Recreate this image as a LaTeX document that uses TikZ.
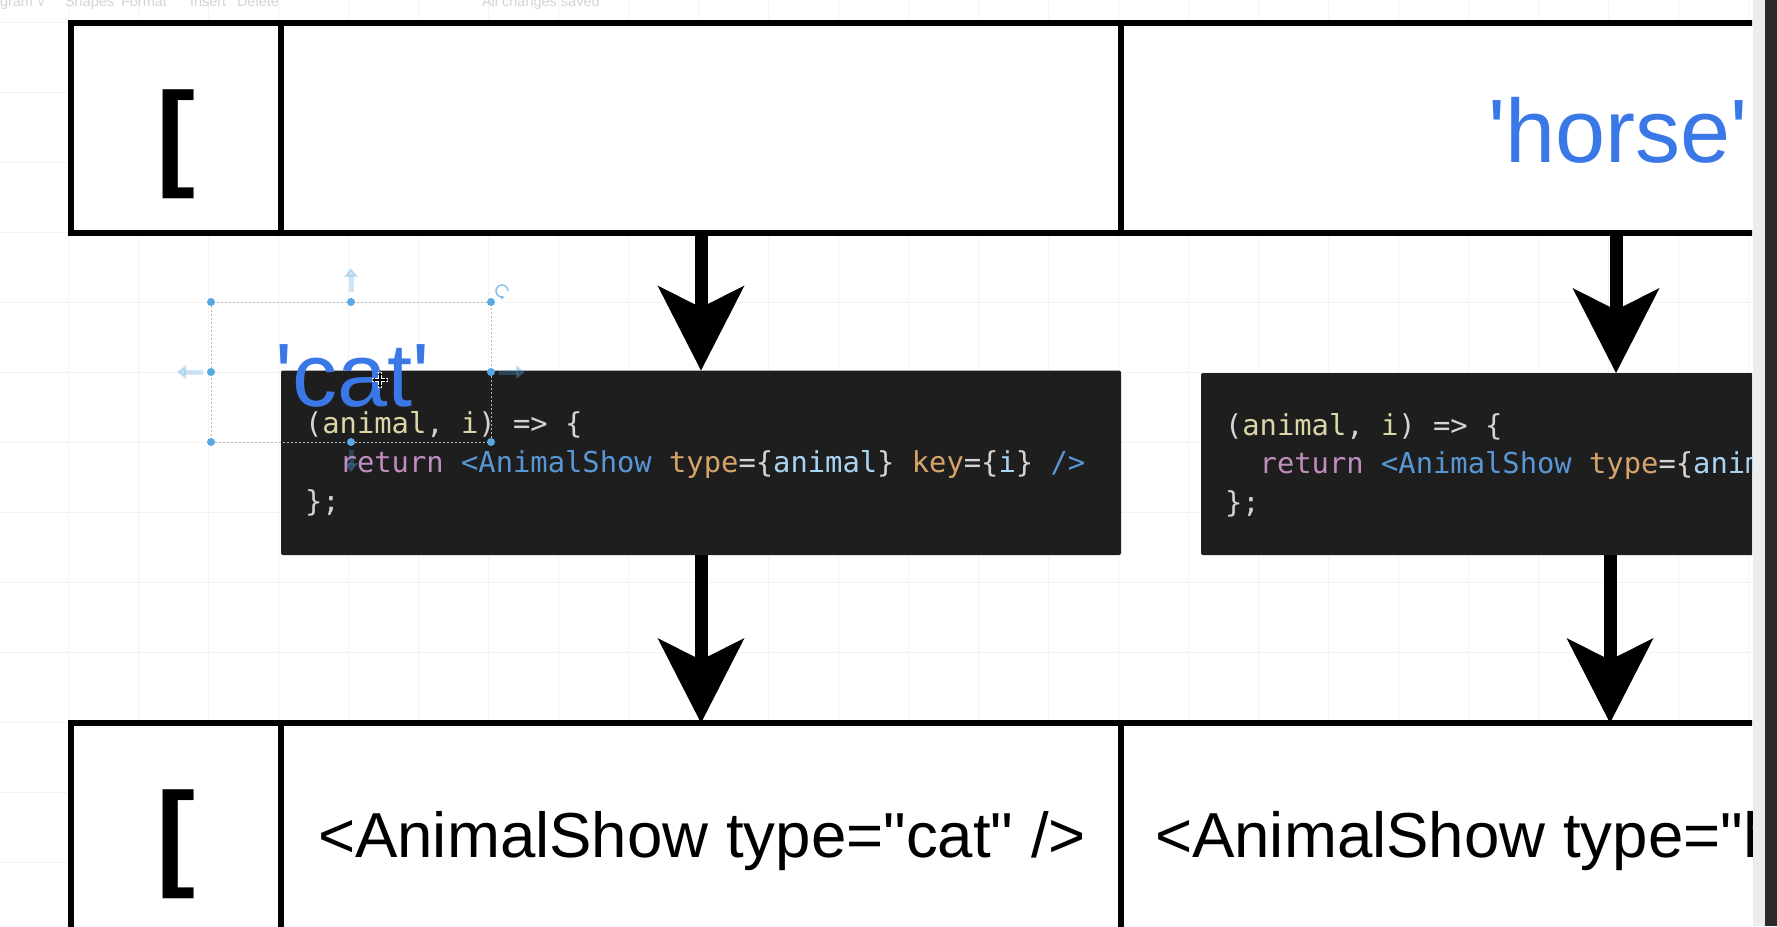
\documentclass[tikz,border=0pt]{standalone}
\usetikzlibrary{arrows.meta}
\font\fbig="Liberation Sans" at 90pt
\font\fmid="Liberation Sans" at 63.6pt
\font\fbrk="Liberation Sans/B" at 117pt
\font\fcode="DejaVu Sans Mono" at 28.8pt
\font\fui="Liberation Sans" at 14.5pt
\font\fuisym="DejaVu Sans" at 11pt
\def\cbl{\char"7B\relax}
\def\cbr{\char"7D\relax}
\definecolor{ublue}{RGB}{58,120,231}
\definecolor{codebg}{RGB}{30,30,30}
\definecolor{cwhite}{RGB}{212,212,212}
\definecolor{cparam}{RGB}{220,214,166}
\definecolor{cret}{RGB}{192,140,190}
\definecolor{ctag}{RGB}{88,150,212}
\definecolor{cattr}{RGB}{214,164,106}
\definecolor{cvar}{RGB}{168,212,242}
\definecolor{handle}{RGB}{88,168,228}
\definecolor{gridc}{RGB}{243,243,243}
\definecolor{uitext}{RGB}{212,212,212}
\definecolor{selline}{RGB}{185,185,185}
\definecolor{stripl}{RGB}{236,236,236}
\definecolor{stripd}{RGB}{42,42,42}
\begin{document}
\begin{tikzpicture}[x=1pt,y=-1pt,
  cell/.style={draw=black, line width=6pt, fill=white, inner sep=0pt, outer sep=0pt, anchor=north west},
  codebox/.style={fill=codebg, rounded corners=2pt, inner sep=0pt, outer sep=0pt, anchor=north west},
  code/.style={anchor=base west, inner sep=0pt, outer sep=0pt, text=cwhite, font=\fcode},
  bigtxt/.style={anchor=base west, inner sep=0pt, outer sep=0pt, text=ublue, font=\fbig},
  midtxt/.style={anchor=base west, inner sep=0pt, outer sep=0pt, text=black, font=\fmid},
  brk/.style={anchor=base west, inner sep=0pt, outer sep=0pt, text=black, font=\fbrk},
  uitxt/.style={anchor=base west, inner sep=0pt, outer sep=0pt, text=uitext, font=\fui},
  flow/.style={line width=13pt, draw=black, -{Stealth[length=85pt,width=87pt,inset=22pt,line width=0pt]}},
  selbox/.style={draw=selline, line width=1pt, dash pattern=on 2pt off 2pt, inner sep=0pt, outer sep=0pt},
  ghost/.style={draw=handle, opacity=0.28, line width=5pt, -{Triangle[length=9pt,width=14pt]}}
]
\useasboundingbox (0,0) rectangle (1777,926);
\fill[white] (0,0) rectangle (1777,926);
\begin{scope}
\clip (0,0) rectangle (1752,926);
% grid
\foreach \gx in {68,138,...,1748} \draw[gridc, line width=1pt] (\gx,0) -- (\gx,926);
\foreach \gy in {22,92,...,902} \draw[gridc, line width=1pt] (0,\gy) -- (1777,\gy);
% toolbar text
\node[uitxt] (tb1) at (0,6.5) {gram};
\node[anchor=base west, inner sep=0pt, text=uitext, font=\fuisym] (tb2) at (37,6.5) {∨};
\node[uitxt] (tb3) at (65,6.5) {Shapes};
\node[uitxt] (tb4) at (121,6.5) {Format};
\node[uitxt] (tb5) at (190,6.5) {Insert};
\node[uitxt] (tb6) at (237,6.5) {Delete};
\node[uitxt] (tb7) at (482,6.5) {All changes saved};
% top row
\node[cell, minimum width=210.5pt, minimum height=210pt] (tl) at (70.5,22.5) {};
\node[cell, minimum width=840pt, minimum height=210pt] (tc) at (281,22.5) {};
\node[cell, minimum width=990pt, minimum height=210pt] (tr) at (1121,22.5) {};
\node[brk] (tbr) at (156,174.4) {[};
\node[bigtxt] (horse) at (1488,162.5) {'horse'};
% bottom row
\node[cell, minimum width=210.5pt, minimum height=300pt] (bl) at (70.5,723) {};
\node[cell, minimum width=840pt, minimum height=300pt] (bc) at (281,723) {};
\node[cell, minimum width=990pt, minimum height=300pt] (br) at (1121,723) {};
\node[brk] (bbr) at (156,874.4) {[};
\node[midtxt] (bt1) at (318,857) {<AnimalShow type="cat" />};
\node[midtxt] (bt2) at (1155,857) {<AnimalShow type="horse" />};
% code boxes
\node[codebox, minimum width=840pt, minimum height=184.5pt] (cb1) at (281,370.5) {};
\node[codebox, minimum width=830pt, minimum height=182pt] (cb2) at (1201,373) {};
\node[code] (c1a) at (305,433) {(\textcolor{cparam}{animal}, \textcolor{cparam}{i}) => \cbl};
\node[code] (c1b) at (339.7,472.5) {\textcolor{cret}{return} \textcolor{ctag}{<AnimalShow} \textcolor{cattr}{type}=\cbl\textcolor{cvar}{animal}\cbr{} \textcolor{cattr}{key}=\cbl\textcolor{cvar}{i}\cbr{} \textcolor{ctag}{/>}};
\node[code] (c1c) at (305,511.5) {\cbr;};
\node[code] (c2a) at (1225,435) {(\textcolor{cparam}{animal}, \textcolor{cparam}{i}) => \cbl};
\node[code] (c2b) at (1259.7,473.5) {\textcolor{cret}{return} \textcolor{ctag}{<AnimalShow} \textcolor{cattr}{type}=\cbl\textcolor{cvar}{animal}\cbr{} \textcolor{cattr}{key}=\cbl\textcolor{cvar}{i}\cbr{} \textcolor{ctag}{/>}};
\node[code] (c2c) at (1225,512) {\cbr;};
% arrows
\coordinate (ax2) at (1616,300);
\coordinate (ax4) at (1610,640);
\draw[flow] (tc.south) -- (cb1.north);
\draw[flow] (tr.south -| ax2) -- (cb2.north -| ax2);
\draw[flow] (cb1.south) -- (bc.north);
\draw[flow] (cb2.south -| ax4) -- (br.north -| ax4);
% cat label with selection
\node[bigtxt] (cat) at (275,406) {'cat'};
\node[selbox, minimum width=280pt, minimum height=140pt] (sel) at (351,372) {};
\foreach \a in {north west, north, north east, west, east, south west, south, south east}
  \fill[handle] (sel.\a) circle (4pt);
\draw[ghost] (sel.north) ++(0,-10) -- ++(0,-24);
\draw[ghost] (sel.west) ++(-8,0) -- ++(-26,0);
\draw[ghost] (sel.east) ++(8,0) -- ++(26,0);
\draw[ghost] (sel.south) ++(0,8) -- ++(0,22);
\draw[handle, opacity=0.7, line width=1.5pt, -{Triangle[length=3pt,width=4pt]}] (508,291) arc[start angle=0, end angle=290, radius=6pt];
% move cursor
\draw[white, line width=4pt] (372,380) -- (388,380) (380,372) -- (380,388);
\draw[black, line width=1.2pt, {Triangle[length=3pt,width=4pt]}-{Triangle[length=3pt,width=4pt]}] (372,380) -- (388,380);
\draw[black, line width=1.2pt, {Triangle[length=3pt,width=4pt]}-{Triangle[length=3pt,width=4pt]}] (380,372) -- (380,388);
\end{scope}
% right screen edge
\fill[stripl] (1753,0) rectangle (1765,926);
\fill[stripd] (1765,0) rectangle (1777,926);
\end{tikzpicture}
\end{document}
